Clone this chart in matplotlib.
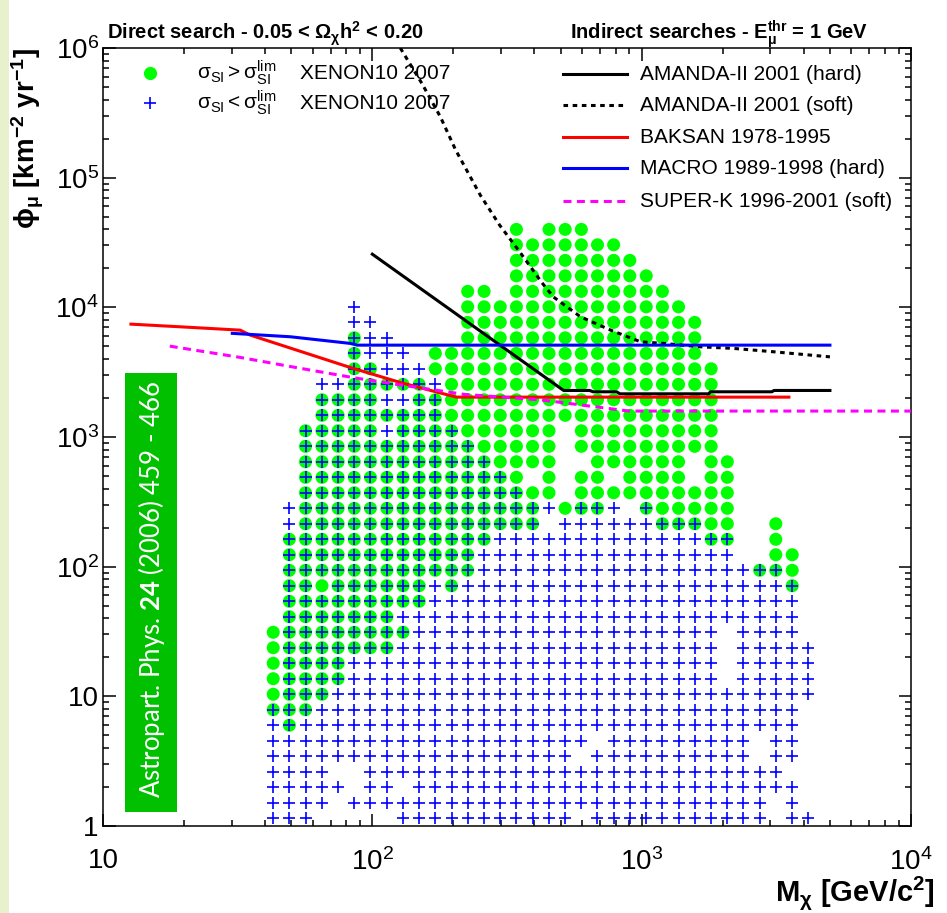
import matplotlib
matplotlib.use('Agg')
import matplotlib.pyplot as plt
import numpy as np
from matplotlib.patches import Rectangle
from matplotlib.ticker import FixedLocator, FixedFormatter, NullFormatter, LogLocator

plt.rcParams['font.family'] = ['Liberation Sans', 'DejaVu Sans']
plt.rcParams['mathtext.fontset'] = 'custom'
plt.rcParams['mathtext.rm'] = 'Liberation Sans'
plt.rcParams['mathtext.it'] = 'Liberation Sans:italic'
plt.rcParams['mathtext.bf'] = 'Lato:bold'
plt.rcParams['mathtext.default'] = 'regular'

# ---------------- data ----------------
# scan grid: bin centres (log10 of mass in GeV, log10 of flux in km^-2 yr^-1)
mass_log10 = [1.632, 1.692, 1.752, 1.813, 1.873, 1.933, 1.993, 2.054, 2.114, 2.174,
              2.234, 2.294, 2.354, 2.415, 2.475, 2.535, 2.595, 2.656, 2.716, 2.776,
              2.836, 2.896, 2.956, 3.017, 3.077, 3.137, 3.197, 3.258, 3.318, 3.378,
              3.438, 3.498, 3.559, 3.619]
flux_log10 = [4.601, 4.482, 4.362, 4.243, 4.123, 4.004, 3.884, 3.765, 3.645, 3.526,
              3.406, 3.287, 3.167, 3.048, 2.928, 2.809, 2.689, 2.570, 2.450, 2.331,
              2.211, 2.092, 1.972, 1.853, 1.733, 1.614, 1.494, 1.375, 1.255, 1.136,
              1.016, 0.897, 0.777, 0.658, 0.538, 0.419, 0.299, 0.180, 0.060]
# g = sigma_SI > lim only, b = sigma_SI < lim only, x = both, . = none (rows top -> bottom)
grid_rows = [
    "...............g.ggg..............",
    "...............ggggggg............",
    "...............gggggggg...........",
    "...............ggggggggg..........",
    "............gg.gggggggggg.........",
    ".....b......gggggggggggggg........",
    ".....bb.....ggggggggggggggg.......",
    ".....xbb....ggggggggggggggg.......",
    ".....xbbb.ggggggggggggggggg.......",
    ".....xxbbbgggggggggggggggggg......",
    "...bbxxxxxbggggggggggggggggg......",
    "...xxxxbbxxggggggggggggggggg......",
    "...xxxxxxxxggggggggggggggggg......",
    "..xxxxxbxxxxgggggg.ggggggggg......",
    "..xxxxxxxxxxxggggg.ggggggggg......",
    "..xxxxxxxxxxxxgggg..gggggg.gg.....",
    "..xxxxxxxxxxxxxg.g.gg.gggg.gg.....",
    "..xxxxxxxxxxxxxxgg.gggggggggg.....",
    ".bxxxxxxxxxxxxxxxbgxxb.xggggg.....",
    ".bxxxxxxxxxxxxxxx.bbbbbbxxxgg..g..",
    ".xxxxxxxxxxxxxbbbbbbbbbbbbbxx..g..",
    ".xxxxxxxxxxxxbbbbbbbbbbbbbbbb..gg.",
    ".xxxxxxxxxxxxbbbbbbbbbbbbbbbbbxxg.",
    ".xxgxxxxxxbxbbbbbbbbbbbbbbbbbbbbx.",
    ".xxxxxxxxxbbbbbbbbbbbbbbbbbbbbbbb.",
    ".xxxxxxxbbbbbbbbbbbbbbbbbbbbbbbbb.",
    "gxxxxxxxxbbbbbbbbbbbbbbbbbbb.bbbb.",
    "gxxxxxxxbbbbbbbbbbbbbbbbbbbb.bbbbb",
    "gxxxxbbbbbbbbbbbbbbbbbbbbbbb.bbbbb",
    "gxxxxbbbbbbbbbbbbbbbbbbbbbbb.bbbbb",
    "gxxxbbbbbbbbbbbbbbbbbbbbbbbbbbbbbb",
    "xxxbbbbbbbbbbbbbbbbbbbbbbbbbbbbbb.",
    "bxbbbbbbbbbbbbbbbbbbbbbbbbbbbbbbb.",
    "bbbbbbbbbbbbbbbbbbbb.bbbbbbbbb.bb.",
    "bbbbbbbbbbbbbbbbbbb.bbbbbbbbbb.bb.",
    "bbbb..bbbbbbbbbbbbbbbbbbbbbbbbbb..",
    "bbbbb.bb.bbbbbbbbbbbbbbbbbbbbbbbb.",
    "bbbb.bbbbbbbbbbbbbbbbbbbbbbbbbb.b.",
    "bbb.....bbbbbbbbbbb.bbbbbbbbbbb.bb",
]

# indirect-search limits (mass GeV, muon flux km^-2 yr^-1)
amanda_hard_m = [100, 513, 641, 660, 807, 830, 1774, 1800, 3043, 3100, 5000]
amanda_hard_phi = [25700, 2285, 2285, 2232, 2232, 2153, 2153, 2232, 2232, 2285, 2285]
amanda_soft_m = [127, 153, 179, 204, 252, 297, 347, 389, 425, 471, 593, 767, 991,
                 1207, 1657, 2198, 3097, 5000]
amanda_soft_phi = [1.0e6, 5.3e5, 2.94e5, 1.63e5, 7.3e4, 4.3e4, 2.8e4, 2.02e4, 1.56e4,
                   1.2e4, 8450, 6670, 5420, 5270, 4960, 4820, 4540, 4150]
baksan_m = [12.7, 20, 32.3, 35.2, 83.4, 128, 205, 3520]
baksan_phi = [7420, 7050, 6670, 6110, 3420, 2620, 2030, 2030]
macro_m = [30.2, 49.6, 64.1, 82.8, 88, 5000]
macro_phi = [6300, 5930, 5590, 5270, 5110, 5110]
superk_m = [17.7, 32.3, 52.6, 85.7, 124, 220, 425, 753, 895, 10000]
superk_phi = [5020, 4110, 3420, 2860, 2540, 2130, 1930, 1660, 1585, 1585]

x_tick_vals = [10, 100, 1000, 10000]
x_tick_labels = ['10', '$10^{2}$', '$10^{3}$', '$10^{4}$']
y_tick_vals = [1, 10, 100, 1000, 1e4, 1e5, 1e6]
y_tick_labels = ['1', '10', '$10^{2}$', '$10^{3}$', '$10^{4}$', '$10^{5}$', '$10^{6}$']

# ---------------- figure ----------------
W, H = 947, 913
fig = plt.figure(figsize=(W / 100, H / 100), dpi=100)
fig.patch.set_facecolor('#e9f0cc')
fig.patches.append(Rectangle((9 / W, 0), 1, 1, transform=fig.transFigure,
                             facecolor='white', edgecolor='none', zorder=-10))

L, R, T, B = 103, 911, 48, 826
ax = fig.add_axes([L / W, 1 - B / H, (R - L) / W, (B - T) / H])
ax.set_zorder(1)
ax.set_xscale('log')
ax.set_yscale('log')
ax.set_xlim(10, 1e4)
ax.set_ylim(1, 1e6)
ax.set_facecolor('white')

# grid cells
gx, gy, bx, by = [], [], [], []
for j, row in enumerate(grid_rows):
    for i, c in enumerate(row):
        m = 10 ** mass_log10[i]
        f = 10 ** flux_log10[j]
        if c in 'gx':
            gx.append(m); gy.append(f)
        if c in 'bx':
            bx.append(m); by.append(f)
ax.scatter(gx, gy, s=88, marker='o', color='#00ff00', edgecolors='none', zorder=2)
ax.scatter(bx, by, s=78, marker='+', color='#0000ff', linewidths=1.2, zorder=2.5)

lw = 2.2
ax.plot(amanda_hard_m, amanda_hard_phi, color='black', lw=lw, zorder=4)
ax.plot(amanda_soft_m, amanda_soft_phi, color='black', lw=lw, ls=(0, (1.5, 1.5)), zorder=4)
ax.plot(baksan_m, baksan_phi, color='#ff0000', lw=lw, zorder=4)
ax.plot(macro_m, macro_phi, color='#0000ff', lw=lw, zorder=4)
ax.plot(superk_m, superk_phi, color='#ff00ff', lw=lw, ls=(0, (2.6, 1.8)), zorder=4)

# ticks
ax.xaxis.set_major_locator(FixedLocator(x_tick_vals))
ax.xaxis.set_major_formatter(FixedFormatter(x_tick_labels))
ax.yaxis.set_major_locator(FixedLocator(y_tick_vals))
ax.yaxis.set_major_formatter(FixedFormatter(y_tick_labels))
ax.xaxis.set_minor_locator(LogLocator(base=10, subs=np.arange(2, 10), numticks=20))
ax.yaxis.set_minor_locator(LogLocator(base=10, subs=np.arange(2, 10), numticks=20))
ax.xaxis.set_minor_formatter(NullFormatter())
ax.yaxis.set_minor_formatter(NullFormatter())
ax.tick_params(which='both', direction='in', top=True, right=True, width=1.1, labelsize=20)
ax.tick_params(which='major', length=9)
ax.tick_params(which='minor', length=4.5)
ax.tick_params(axis='x', pad=16)
ax.tick_params(axis='y', pad=3)
for sp in ax.spines.values():
    sp.set_linewidth(1.1)

def axf(px, py):
    return ((px - L) / (R - L), 1 - (py - T) / (B - T))

# left legend
lfs = 15
x0, y0 = axf(150, 73)
ax.plot([x0], [y0], 'o', color='#00ff00', ms=9.5, mec='none', transform=ax.transAxes, clip_on=False)
x0, y1 = axf(150, 103)
ax.plot([x0], [y1], '+', color='#0000ff', ms=9, mew=1.2, transform=ax.transAxes, clip_on=False)
tx, _ = axf(197, 0)
tx2, _ = axf(300, 0)
ax.text(tx, y0, r'$\sigma_{SI} > \sigma_{SI}^{lim}$', fontsize=lfs, transform=ax.transAxes, va='center')
ax.text(tx2, y0, 'XENON10 2007', fontsize=lfs, transform=ax.transAxes, va='center')
ax.text(tx, y1, r'$\sigma_{SI} < \sigma_{SI}^{lim}$', fontsize=lfs, transform=ax.transAxes, va='center')
ax.text(tx2, y1, 'XENON10 2007', fontsize=lfs, transform=ax.transAxes, va='center')

# right legend
leg_items = [
    ('AMANDA-II 2001 (hard)', 'black', '-', 74),
    ('AMANDA-II 2001 (soft)', 'black', (0, (1.5, 1.5)), 105),
    ('BAKSAN 1978-1995', '#ff0000', '-', 137),
    ('MACRO 1989-1998 (hard)', '#0000ff', '-', 168),
    ('SUPER-K 1996-2001 (soft)', '#ff00ff', (0, (2.6, 1.8)), 201),
]
xa, _ = axf(563, 0)
xb, _ = axf(627, 0)
xt, _ = axf(640, 0)
for lab, col, ls, py in leg_items:
    _, yy = axf(0, py)
    ax.plot([xa, xb], [yy, yy], color=col, ls=ls, lw=lw, transform=ax.transAxes, clip_on=False)
    ax.text(xt, yy, lab, fontsize=lfs, transform=ax.transAxes, va='center')

# headers and axis titles
fig.text(107 / W, 1 - 39 / H, r'Direct search - 0.05 < $\Omega_{\chi}h^{2}$ < 0.20',
         fontsize=14.5, fontweight='bold', ha='left', va='baseline')
fig.text(570 / W, 1 - 39 / H, r'Indirect searches - E$_{\mu}^{thr}$ = 1 GeV',
         fontsize=14.5, fontweight='bold', ha='left', va='baseline')
fig.text(935 / W, 1 - 901 / H, r'M$_{\chi}$ [GeV/c$^{2}$]', fontsize=21, fontweight='bold',
         ha='right', va='baseline')
fig.text(28 / W, 1 - 48 / H, r'$\phi_{\mu}$ [km$^{-2}$ yr$^{-1}$]', fontsize=20,
         fontweight='bold', ha='center', va='top', rotation=90)

# journal reference box
fig.patches.append(Rectangle((125 / W, 1 - 812 / H), 52 / W, 439 / H, transform=fig.transFigure,
                             facecolor='#00c000', edgecolor='none', zorder=5))
fig.text(151 / W, 1 - 589 / H, r'Astropart. Phys. $\mathbf{24}$ (2006) 459 - 466',
         family=['Lato', 'DejaVu Sans'], fontsize=18.5, color='white', rotation=90,
         ha='center', va='center', zorder=6)

fig.savefig('out.png', dpi=100, facecolor=fig.get_facecolor())
